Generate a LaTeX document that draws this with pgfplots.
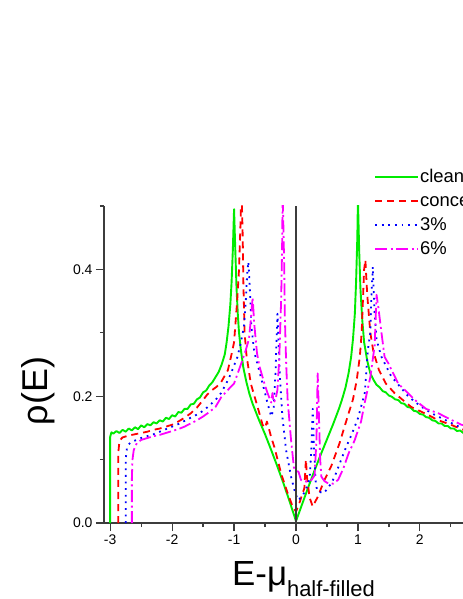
\documentclass[border=0pt]{standalone}
\usepackage{pgfplots}
\pgfplotsset{compat=1.18}
\usepackage{fontspec}
\setmainfont{Liberation Sans}
\definecolor{cgreen}{RGB}{0,235,0}
\definecolor{cred}{RGB}{255,0,0}
\definecolor{cblue}{RGB}{0,0,255}
\definecolor{cmag}{RGB}{255,0,255}
\definecolor{axgray}{RGB}{60,60,60}
\begin{document}
\begin{tikzpicture}[x=1bp,y=1bp]
\path[use as bounding box, clip] (-104,-76) rectangle (359,523);
\begin{axis}[
  at={(0,0)}, anchor=south west,
  scale only axis, width=384bp, height=317bp,
  xmin=-3.1, xmax=3.1, ymin=0, ymax=0.5,
  axis x line=bottom, axis y line=left,
  axis line style={draw=axgray, line width=1.5bp, -},
  tick style={draw=axgray, line width=1.2bp},
  tick align=outside,
  major tick length=8bp, minor tick length=4bp,
  xtick={-3,-2,-1,0,1,2,3}, xticklabels={-3,-2,-1,0,1,2,3},
  minor xtick={-2.5,-1.5,-0.5,0.5,1.5,2.5},
  ytick={0,0.2,0.4}, yticklabels={0.0,0.2,0.4},
  minor ytick={0.1,0.3,0.5},
  ticklabel style={font=\fontsize{14}{16}\selectfont},
  xlabel={\fontsize{35}{40}\selectfont E-μ\raisebox{-11bp}{\fontsize{22}{25}\selectfont half-filled}},
  every axis x label/.style={at={(axis description cs:0.5195,-0.1956)}, anchor=base},
  ylabel={\fontsize{36}{42}\selectfont ρ(E)},
  every axis y label/.style={at={(axis description cs:-0.172,0.416)}, rotate=90, anchor=center},
  legend style={at={(axis description cs:0.7031,1.1200)}, anchor=north west, draw=none, fill=none,
    inner sep=0pt, font=\fontsize{18.5}{22}\selectfont, row sep=7.5bp, nodes={inner sep=1bp}},
  legend cell align=left,
  legend image code/.code={\draw[#1] (0bp,0bp) -- (43bp,0bp);},
  every axis plot/.append style={no markers, line join=round},
]
\addplot[cgreen, line width=1.9bp] coordinates {
(-3.00,0) (-3.00,0.136) (-2.98,0.143) (-2.95,0.141) (-2.90,0.145) (-2.85,0.142) (-2.80,0.147) (-2.75,0.144)
(-2.70,0.149) (-2.65,0.146) (-2.60,0.151) (-2.55,0.148) (-2.50,0.154) (-2.45,0.151) (-2.40,0.156) (-2.35,0.154)
(-2.30,0.159) (-2.25,0.157) (-2.20,0.162) (-2.15,0.160) (-2.10,0.166) (-2.05,0.164) (-2.00,0.170) (-1.95,0.168)
(-1.90,0.175) (-1.85,0.174) (-1.80,0.180) (-1.75,0.180) (-1.70,0.187) (-1.65,0.188) (-1.60,0.195) (-1.55,0.198)
(-1.50,0.206) (-1.45,0.209) (-1.40,0.217) (-1.35,0.222) (-1.30,0.230) (-1.25,0.238) (-1.20,0.250) (-1.15,0.266)
(-1.12,0.285) (-1.09,0.310) (-1.06,0.345) (-1.04,0.380) (-1.02,0.430) (-1.00,0.495) (-0.98,0.430) (-0.96,0.370)
(-0.94,0.330) (-0.92,0.300) (-0.89,0.273) (-0.85,0.245) (-0.80,0.222) (-0.75,0.203) (-0.70,0.188) (-0.60,0.163)
(-0.50,0.140) (-0.40,0.115) (-0.30,0.089) (-0.20,0.062) (-0.10,0.033) (0.00,0.003) (0.10,0.030) (0.20,0.057)
(0.30,0.083) (0.40,0.108) (0.50,0.132) (0.60,0.156) (0.70,0.182) (0.75,0.197) (0.80,0.214) (0.85,0.237)
(0.89,0.262) (0.92,0.290) (0.95,0.330) (0.97,0.380) (0.99,0.450) (1.00,0.510) (1.02,0.430) (1.04,0.370)
(1.07,0.320) (1.10,0.285) (1.15,0.256) (1.20,0.236) (1.25,0.226) (1.30,0.218) (1.35,0.214) (1.40,0.208)
(1.45,0.206) (1.50,0.201) (1.55,0.199) (1.60,0.195) (1.65,0.194) (1.70,0.189) (1.75,0.188) (1.80,0.183)
(1.85,0.182) (1.90,0.177) (1.95,0.176) (2.00,0.172) (2.05,0.171) (2.10,0.167) (2.15,0.166) (2.20,0.162)
(2.25,0.161) (2.30,0.157) (2.35,0.157) (2.40,0.153) (2.45,0.153) (2.50,0.149) (2.55,0.149) (2.60,0.145)
(2.65,0.146) (2.70,0.142) (2.80,0.142) (2.90,0.140) (3.00,0.138) (3.00,0)
};
\addlegendentry{clean}
\addplot[cred, line width=1.8bp, dash pattern=on 7bp off 5bp] coordinates {
(-2.87,0) (-2.87,0.110) (-2.85,0.130) (-2.80,0.135) (-2.70,0.138) (-2.60,0.140) (-2.50,0.142) (-2.40,0.144)
(-2.30,0.147) (-2.20,0.149) (-2.10,0.152) (-2.00,0.155) (-1.90,0.160) (-1.80,0.166) (-1.70,0.173) (-1.60,0.182)
(-1.50,0.194) (-1.43,0.203) (-1.35,0.210) (-1.28,0.215) (-1.21,0.222) (-1.10,0.241) (-1.05,0.262) (-1.00,0.285)
(-0.95,0.350) (-0.92,0.400) (-0.90,0.460) (-0.88,0.530) (-0.86,0.450) (-0.85,0.380) (-0.83,0.300) (-0.80,0.265)
(-0.73,0.220) (-0.62,0.183) (-0.54,0.155) (-0.50,0.150) (-0.47,0.160) (-0.44,0.150) (-0.40,0.135) (-0.35,0.120)
(-0.24,0.078) (-0.135,0.047) (-0.05,0.025) (0.00,0.018) (0.05,0.030) (0.10,0.045) (0.135,0.055) (0.16,0.100)
(0.18,0.070) (0.22,0.040) (0.27,0.026) (0.35,0.041) (0.46,0.068) (0.57,0.090) (0.70,0.125) (0.84,0.170)
(0.92,0.195) (0.98,0.225) (1.03,0.262) (1.06,0.300) (1.08,0.350) (1.10,0.400) (1.12,0.415) (1.15,0.360)
(1.20,0.300) (1.25,0.270) (1.34,0.241) (1.45,0.220) (1.59,0.205) (1.86,0.183) (2.10,0.172) (2.30,0.162)
(2.50,0.155) (2.70,0.147) (2.90,0.140)
};
\addlegendentry{concentration 1\%}
\addplot[cblue, line width=1.8bp, dash pattern=on 1.8bp off 4.8bp] coordinates {
(-2.75,0) (-2.75,0.100) (-2.73,0.118) (-2.70,0.124) (-2.67,0.127) (-2.60,0.130) (-2.50,0.134) (-2.40,0.137)
(-2.30,0.140) (-2.20,0.144) (-2.10,0.148) (-2.00,0.152) (-1.90,0.156) (-1.80,0.161) (-1.70,0.166) (-1.60,0.171)
(-1.50,0.177) (-1.40,0.185) (-1.30,0.194) (-1.21,0.205) (-1.10,0.225) (-1.05,0.236) (-0.945,0.262) (-0.89,0.285)
(-0.84,0.310) (-0.81,0.352) (-0.79,0.390) (-0.77,0.412) (-0.755,0.390) (-0.74,0.357) (-0.72,0.310) (-0.675,0.270)
(-0.62,0.250) (-0.57,0.231) (-0.50,0.205) (-0.46,0.189) (-0.40,0.168) (-0.36,0.180) (-0.33,0.240) (-0.31,0.300)
(-0.30,0.330) (-0.28,0.280) (-0.26,0.230) (-0.22,0.168) (-0.16,0.115) (-0.08,0.073) (-0.02,0.050) (0.03,0.036)
(0.08,0.040) (0.15,0.050) (0.22,0.070) (0.25,0.120) (0.27,0.180) (0.29,0.120) (0.32,0.060) (0.35,0.050)
(0.45,0.047) (0.55,0.060) (0.62,0.072) (0.73,0.100) (0.81,0.120) (0.90,0.140) (1.00,0.165) (1.11,0.205)
(1.16,0.273) (1.20,0.300) (1.215,0.352) (1.24,0.404) (1.27,0.330) (1.30,0.289) (1.38,0.262) (1.54,0.231)
(1.81,0.200) (2.00,0.185) (2.19,0.173) (2.40,0.163) (2.67,0.150) (2.90,0.145)
};
\addlegendentry{3\%}
\addplot[cmag, line width=1.8bp, dash pattern=on 12bp off 3.5bp on 2bp off 3.5bp] coordinates {
(-2.65,0) (-2.65,0.070) (-2.64,0.100) (-2.62,0.115) (-2.57,0.126) (-2.50,0.131) (-2.40,0.134) (-2.30,0.137)
(-2.20,0.139) (-2.10,0.142) (-2.00,0.145) (-1.90,0.148) (-1.80,0.152) (-1.70,0.157) (-1.60,0.162) (-1.50,0.168)
(-1.40,0.175) (-1.30,0.183) (-1.21,0.198) (-1.08,0.212) (-1.00,0.220) (-0.89,0.250) (-0.81,0.273) (-0.76,0.290)
(-0.73,0.320) (-0.70,0.356) (-0.675,0.315) (-0.63,0.268) (-0.59,0.247) (-0.51,0.220) (-0.46,0.205) (-0.42,0.195)
(-0.40,0.190) (-0.38,0.205) (-0.36,0.190) (-0.33,0.195) (-0.30,0.210) (-0.27,0.260) (-0.24,0.352) (-0.225,0.430)
(-0.215,0.520) (-0.19,0.404) (-0.18,0.325) (-0.16,0.255) (-0.135,0.194) (-0.08,0.131) (-0.03,0.084) (0.00,0.082)
(0.04,0.081) (0.08,0.068) (0.13,0.066) (0.19,0.065) (0.25,0.068) (0.30,0.075) (0.33,0.130) (0.35,0.236)
(0.37,0.170) (0.39,0.100) (0.41,0.073) (0.46,0.066) (0.51,0.063) (0.60,0.062) (0.68,0.068) (0.76,0.085)
(0.85,0.110) (0.945,0.130) (1.05,0.160) (1.11,0.190) (1.20,0.230) (1.27,0.280) (1.30,0.360) (1.33,0.340)
(1.38,0.300) (1.43,0.262) (1.49,0.252) (1.65,0.220) (1.92,0.194) (2.10,0.180) (2.30,0.173) (2.50,0.163)
(2.67,0.155) (2.90,0.150)
};
\addlegendentry{6\%}
\addplot[axgray, line width=1.5bp, forget plot] coordinates {(0,0) (0,0.5)};
\end{axis}
\end{tikzpicture}
\end{document}
